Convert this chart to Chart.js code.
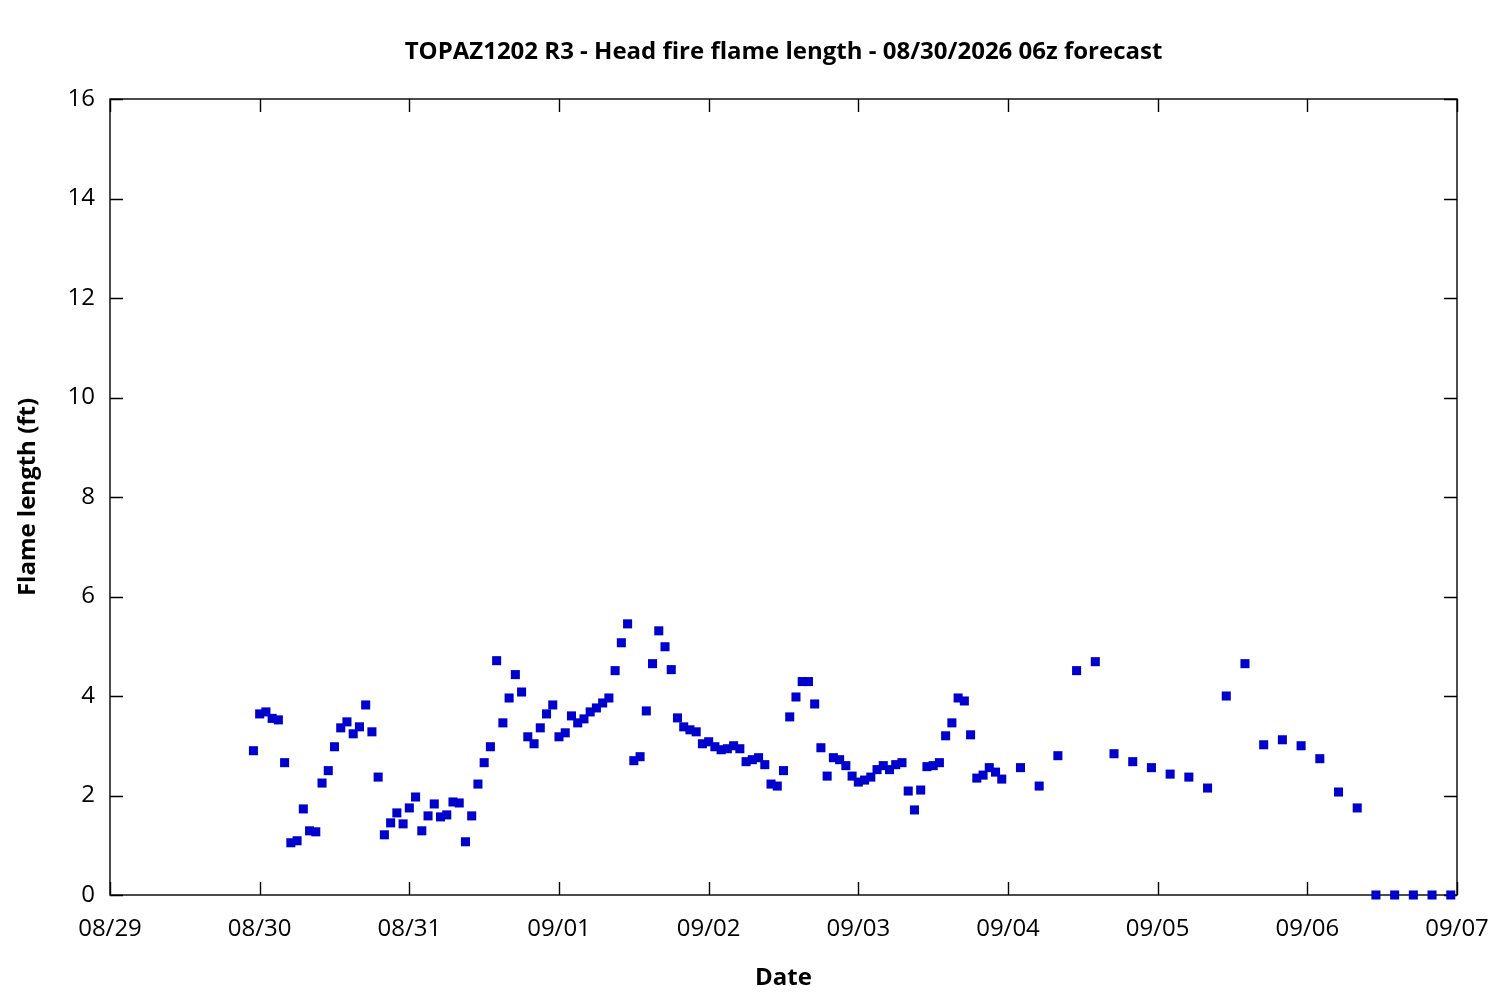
<!DOCTYPE html>
<html>
<head>
<meta charset="utf-8">
<title>TOPAZ1202 R3 - Head fire flame length</title>
<script src="https://cdn.jsdelivr.net/npm/chart.js@4.4.1/dist/chart.umd.min.js"></script>
<style>
  html, body { margin: 0; padding: 0; background: #fff; }
  #wrap { width: 1500px; height: 1000px; }
</style>
</head>
<body>
<div id="wrap"><canvas id="flameChart" width="1500" height="1000"></canvas></div>
<script>
// x axis runs in hours from 08/29 00:00
const dayLabels = ['08/29', '08/30', '08/31', '09/01', '09/02', '09/03', '09/04', '09/05', '09/06', '09/07'];

// hourly forecast, first value at 08/29 23:00
const hourlyStart = 23;
const hourlyFlame = [
  2.90, 3.64, 3.68, 3.55, 3.52, 2.66, 1.05, 1.09, 1.73, 1.29,
  1.27, 2.25, 2.50, 2.98, 3.36, 3.48, 3.24, 3.38, 3.82, 3.28,
  2.37, 1.21, 1.45, 1.65, 1.43, 1.75, 1.97, 1.29, 1.59, 1.83,
  1.57, 1.61, 1.87, 1.85, 1.07, 1.59, 2.23, 2.66, 2.98, 4.71,
  3.46, 3.96, 4.43, 4.08, 3.18, 3.04, 3.36, 3.64, 3.82, 3.18,
  3.26, 3.60, 3.46, 3.54, 3.68, 3.76, 3.86, 3.96, 4.51, 5.07,
  5.45, 2.70, 2.78, 3.70, 4.65, 5.31, 4.99, 4.53, 3.56, 3.38,
  3.32, 3.28, 3.04, 3.08, 2.98, 2.92, 2.94, 3.00, 2.94, 2.68,
  2.72, 2.76, 2.62, 2.23, 2.19, 2.50, 3.58, 3.98, 4.29, 4.29,
  3.84, 2.96, 2.39, 2.76, 2.72, 2.60, 2.39, 2.27, 2.31, 2.37,
  2.52, 2.60, 2.52, 2.62, 2.66, 2.09, 1.71, 2.11, 2.58, 2.60,
  2.66, 3.20, 3.46, 3.96, 3.90, 3.22, 2.35, 2.41, 2.56, 2.47, 2.33
];

// 3-hourly forecast, first value at 09/04 02:00
const threeHourlyStart = 146;
const threeHourlyFlame = [
  2.56, 2.19, 2.80, 4.51, 4.69, 2.84, 2.68, 2.56, 2.43, 2.37,
  2.15, 4.00, 4.65, 3.02, 3.12, 3.00, 2.74, 2.07, 1.75, 0,
  0, 0, 0, 0
];

const yMin = 0, yMax = 16, yStep = 2;

let points = [];
hourlyFlame.forEach(function (v, i) {
  points.push({ x: hourlyStart + i, y: v });
});
threeHourlyFlame.forEach(function (v, i) {
  points.push({ x: threeHourlyStart + i * 3, y: v });
});

const fontFamily = '"Open Sans", "Noto Sans", sans-serif';

// gnuplot style box with inward ticks on all four sides
const framePlugin = {
  id: 'frame',
  beforeDatasetsDraw(chart) {
    const ctx = chart.ctx;
    const a = chart.chartArea;
    const xs = chart.scales.x, ys = chart.scales.y;
    const len = 13;
    ctx.save();
    ctx.strokeStyle = '#000';
    ctx.lineWidth = 1.4;
    ctx.beginPath();
    xs.ticks.forEach(function (t) {
      const px = Math.round(xs.getPixelForValue(t.value)) + 0.5;
      ctx.moveTo(px, a.bottom); ctx.lineTo(px, a.bottom - len);
      ctx.moveTo(px, a.top); ctx.lineTo(px, a.top + len);
    });
    ys.ticks.forEach(function (t) {
      const py = Math.round(ys.getPixelForValue(t.value)) + 0.5;
      ctx.moveTo(a.left, py); ctx.lineTo(a.left + len, py);
      ctx.moveTo(a.right, py); ctx.lineTo(a.right - len, py);
    });
    ctx.stroke();
    ctx.strokeRect(a.left, a.top, a.right - a.left, a.bottom - a.top);
    ctx.restore();
  }
};

const config = {
  type: 'scatter',
  data: {
    datasets: [{
      label: 'Flame length',
      data: points,
      pointStyle: 'rect',
      pointRadius: 6.4,
      pointHoverRadius: 6.4,
      pointBorderWidth: 0,
      backgroundColor: 'rgb(0, 0, 204)',
      borderColor: 'rgb(0, 0, 204)',
      clip: false
    }]
  },
  options: {
    responsive: false,
    animation: false,
    layout: { padding: { left: 0, right: 43, top: 0, bottom: 0 } },
    plugins: {
      legend: { display: false },
      tooltip: { enabled: false },
      title: {
        display: true,
        fullSize: false,
        text: 'TOPAZ1202 R3 - Head fire flame length - 08/30/2026 06z forecast',
        color: '#000',
        font: { family: fontFamily, size: 24, weight: 'bold', lineHeight: 1.2 },
        padding: { top: 38, bottom: 32.2 }
      }
    },
    scales: {
      x: {
        type: 'linear',
        min: 0,
        max: 216,
        border: { display: false },
        grid: { display: false, drawTicks: false },
        ticks: {
          stepSize: 24,
          autoSkip: false,
          maxRotation: 0,
          padding: 20,
          color: '#000',
          font: { family: fontFamily, size: 24 },
          callback: function (value) { return dayLabels[value / 24]; }
        },
        title: {
          display: true,
          text: 'Date',
          color: '#000',
          font: { family: fontFamily, size: 24, weight: 'bold', lineHeight: 1.2 },
          padding: { top: 0, bottom: 7 }
        },
        afterFit: function (scale) {
          scale.height = 105;
          scale.paddingLeft = 0;
          scale.paddingRight = 0;
        }
      },
      y: {
        min: yMin,
        max: yMax,
        border: { display: false },
        grid: { display: false, drawTicks: false },
        ticks: {
          stepSize: yStep,
          padding: 15,
          color: '#000',
          font: { family: fontFamily, size: 24 }
        },
        title: {
          display: true,
          text: 'Flame length (ft)',
          color: '#000',
          font: { family: fontFamily, size: 24, weight: 'bold', lineHeight: 1.2 },
          padding: { top: 14, bottom: 0 }
        },
        afterFit: function (scale) {
          scale.width = 110;
          scale.paddingTop = 0;
          scale.paddingBottom = 0;
        }
      }
    }
  },
  plugins: [framePlugin]
};

const myChart = new Chart(document.getElementById('flameChart'), config);
</script>
</body>
</html>
